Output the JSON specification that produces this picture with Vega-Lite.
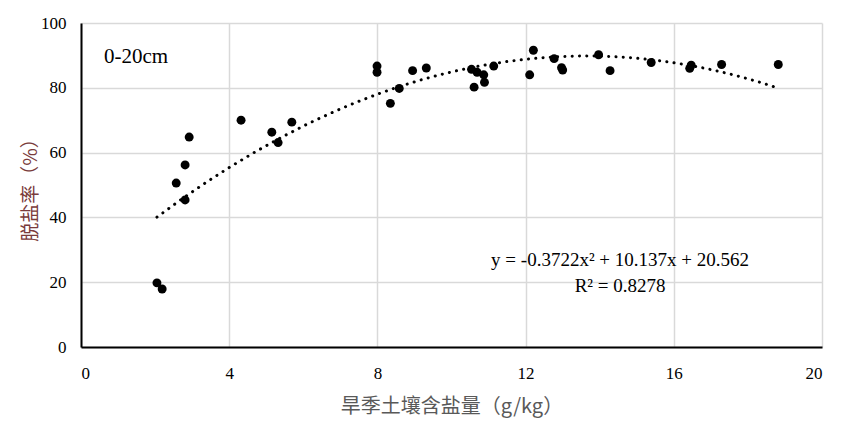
{
  "$schema": "https://vega.github.io/schema/vega-lite/v6.json",
  "width": 741,
  "height": 324,
  "autosize": {"type": "none"},
  "padding": {"left": 81, "top": 23, "right": 28, "bottom": 81},
  "background": "white",
  "datasets": {
    "pts": [
      {"salt": 2.05, "rate": 19.8},
      {"salt": 2.19, "rate": 17.9},
      {"salt": 2.57, "rate": 50.6},
      {"salt": 2.81, "rate": 45.4},
      {"salt": 2.81, "rate": 56.2},
      {"salt": 2.92, "rate": 64.8},
      {"salt": 4.32, "rate": 70.0},
      {"salt": 5.15, "rate": 66.3},
      {"salt": 5.32, "rate": 63.1},
      {"salt": 5.69, "rate": 69.4},
      {"salt": 7.99, "rate": 86.7},
      {"salt": 7.99, "rate": 84.8},
      {"salt": 8.35, "rate": 75.2},
      {"salt": 8.59, "rate": 79.8},
      {"salt": 8.95, "rate": 85.3},
      {"salt": 9.32, "rate": 86.1},
      {"salt": 10.54, "rate": 85.7},
      {"salt": 10.61, "rate": 80.2},
      {"salt": 10.69, "rate": 84.8},
      {"salt": 10.87, "rate": 84.0},
      {"salt": 10.89, "rate": 81.7},
      {"salt": 11.14, "rate": 86.7},
      {"salt": 12.11, "rate": 84.0},
      {"salt": 12.21, "rate": 91.6},
      {"salt": 12.77, "rate": 89.0},
      {"salt": 12.97, "rate": 86.2},
      {"salt": 13.0, "rate": 85.5},
      {"salt": 13.97, "rate": 90.2},
      {"salt": 14.28, "rate": 85.3},
      {"salt": 15.39, "rate": 87.8},
      {"salt": 16.47, "rate": 87.0},
      {"salt": 16.43, "rate": 86.0},
      {"salt": 17.29, "rate": 87.2},
      {"salt": 18.82, "rate": 87.2}
    ],
    "depth": [
      {"salt": 0.62, "rate": 89.5, "txt": "0-20cm"}
    ],
    "fit": [
      {"salt": 14.55, "rate": 26.9, "txt": "y = -0.3722x² + 10.137x + 20.562"},
      {"salt": 14.55, "rate": 18.8, "txt": "R² = 0.8278"}
    ]
  },
  "config": {
    "font": "Liberation Serif",
    "view": {"stroke": null},
    "axis": {
      "gridColor": "#d9d9d9",
      "gridWidth": 1.5,
      "ticks": false,
      "domainColor": "#000000",
      "domainWidth": 2
    }
  },
  "layer": [
    {
      "data": {"name": "pts"},
      "mark": {"type": "circle", "size": 80, "color": "#000000", "opacity": 1},
      "encoding": {
        "x": {
          "field": "salt",
          "type": "quantitative",
          "scale": {"domain": [0, 20], "nice": false},
          "axis": {
            "values": [0, 4, 8, 12, 16, 20],
            "labelFont": "Liberation Serif",
            "labelFontSize": 17,
            "labelColor": "#000000",
            "labelPadding": 18,
            "title": "旱季土壤含盐量（g/kg）",
            "titleFont": "Noto Sans CJK SC",
            "titleFontWeight": "normal",
            "titleFontSize": 20,
            "titleColor": "#595959",
            "titlePadding": 15
          }
        },
        "y": {
          "field": "rate",
          "type": "quantitative",
          "scale": {"domain": [0, 100], "nice": false},
          "axis": {
            "values": [0, 20, 40, 60, 80, 100],
            "labelFont": "Liberation Serif",
            "labelFontSize": 17,
            "labelColor": "#000000",
            "labelPadding": 15,
            "title": "脱盐率（%）",
            "titleFont": "Noto Sans CJK SC",
            "titleFontWeight": "normal",
            "titleFontSize": 19,
            "titleColor": "#7a3b3b",
            "titlePadding": 0
          }
        }
      }
    },
    {
      "data": {"name": "pts"},
      "transform": [
        {"regression": "rate", "on": "salt", "method": "poly", "order": 2}
      ],
      "mark": {
        "type": "line",
        "color": "#000000",
        "strokeWidth": 3,
        "strokeDash": [0.1, 7.2],
        "strokeCap": "round"
      },
      "encoding": {
        "x": {"field": "salt", "type": "quantitative"},
        "y": {"field": "rate", "type": "quantitative"}
      }
    },
    {
      "data": {"name": "depth"},
      "mark": {"type": "text", "font": "Liberation Serif", "fontSize": 21, "color": "#000000", "align": "left", "baseline": "middle"},
      "encoding": {
        "x": {"field": "salt", "type": "quantitative"},
        "y": {"field": "rate", "type": "quantitative"},
        "text": {"field": "txt"}
      }
    },
    {
      "data": {"name": "fit"},
      "mark": {"type": "text", "font": "Liberation Serif", "fontSize": 19, "color": "#000000", "align": "center", "baseline": "middle"},
      "encoding": {
        "x": {"field": "salt", "type": "quantitative"},
        "y": {"field": "rate", "type": "quantitative"},
        "text": {"field": "txt"}
      }
    }
  ]
}
